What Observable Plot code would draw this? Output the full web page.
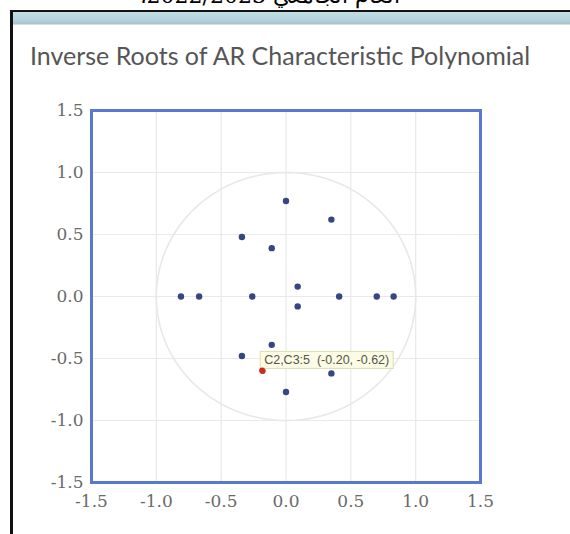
<!DOCTYPE html>
<html>
<head>
<meta charset="utf-8">
<script src="https://cdn.jsdelivr.net/npm/d3@7"></script>
<script src="https://cdn.jsdelivr.net/npm/@observablehq/plot@0.6"></script>
<style>
  html, body { margin: 0; padding: 0; background: #fff; }
  #wrap { position: relative; width: 570px; height: 534px; overflow: hidden; background: #fff; }
  #wrap svg { position: absolute; left: 0; top: 0; }
  .hdr-clip { position: absolute; left: 0; top: 0; width: 570px; height: 9px; overflow: hidden; }
  .hdr { position: absolute; left: 150px; width: 250px; top: -17px; direction: rtl; text-align: center;
         font: 22px "DejaVu Serif", serif; color: #000; white-space: nowrap; }
  .line-top { position: absolute; left: 10px; right: 0; top: 10px; height: 2px; background: #111; }
  .line-left { position: absolute; left: 10px; top: 10px; bottom: 0; width: 3px; background: #111; }
  .band { position: absolute; left: 13px; right: 0; top: 12px; height: 13px;
          background: linear-gradient(to bottom, #c2dde4 0%, #b4d3db 60%, #a9c3cb 90%, #e8f0f2 100%); }
  .title { position: absolute; left: 30px; top: 40px; font: 25px Lato, "Open Sans", sans-serif; color: #555;
           white-space: nowrap; }
</style>
</head>
<body>
<div id="wrap">
  <div class="hdr-clip"><div class="hdr">العام الجامعي 2022/2023،</div></div>
  <div class="line-top"></div>
  <div class="line-left"></div>
  <div class="band"></div>
  <div class="title">Inverse Roots of AR Characteristic Polynomial</div>
</div>
<script>
const rootRe = [0.00, 0.00, 0.35, 0.35, -0.34, -0.34, -0.11, -0.11, 0.09, 0.09, -0.81, -0.67, -0.26, 0.41, 0.70, 0.83];
const rootIm = [0.77, -0.77, 0.62, -0.62, 0.48, -0.48, 0.39, -0.39, 0.08, -0.08, 0.00, 0.00, 0.00, 0.00, 0.00, 0.00];
// highlighted (hovered) root and its tooltip
const hiRe = [-0.18];
const hiIm = [-0.60];
const hiLabel = ["C2,C3:5  (-0.20, -0.62)"];
// axes
const tickValues = [-1.5, -1.0, -0.5, 0.0, 0.5, 1.0, 1.5];
const gridValues = [-1.0, -0.5, 0.0, 0.5, 1.0];

const roots = rootRe.map((re, i) => ({re, im: rootIm[i]}));
const hi = hiRe.map((re, i) => ({re, im: hiIm[i], label: hiLabel[i]}));
// unit circle (reference geometry)
const circle = d3.range(0, 361, 2).map(a => ({re: Math.cos(a * Math.PI / 180), im: Math.sin(a * Math.PI / 180)}));

const fmt = d => d.toFixed(1);

const chart = Plot.plot({
  width: 570,
  height: 534,
  marginLeft: 91,
  marginRight: 90,
  marginTop: 110,
  marginBottom: 52,
  style: {background: "transparent", fontFamily: "'DejaVu Serif', serif", fontSize: "17px", color: "#6a6a6a"},
  x: {domain: [-1.5, 1.5], ticks: tickValues, tickFormat: fmt, tickSize: 0, tickPadding: 12, label: null},
  y: {domain: [-1.5, 1.5], ticks: tickValues, tickFormat: fmt, tickSize: 0, tickPadding: 8, label: null},
  marks: [
    Plot.ruleX(gridValues, {stroke: "#e9e9e9", strokeWidth: 1.2}),
    Plot.ruleY(gridValues, {stroke: "#e9e9e9", strokeWidth: 1.2}),
    Plot.line(circle, {x: "re", y: "im", stroke: "#e8e8e8", strokeWidth: 1.6}),
    Plot.dot(roots, {x: "re", y: "im", r: 3.2, fill: "#36467e", stroke: "none"}),
    Plot.dot(hi, {x: "re", y: "im", r: 3, fill: "#cc2a1a", stroke: "none"}),
    Plot.frame({stroke: "#5a78cf", strokeWidth: 3})
  ]
});

document.getElementById("wrap").appendChild(chart);

// tooltip box next to the highlighted root, positioned through the scales
const sx = chart.scale("x"), sy = chart.scale("y");
const svg = d3.select(chart);
hi.forEach(d => {
  const px = sx.apply(d.re), py = sy.apply(d.im);
  const g = svg.append("g");
  const rect = g.append("rect");
  const t = g.append("text")
    .attr("x", px + 2)
    .attr("y", py - 6)
    .attr("text-anchor", "start")
    .attr("font-family", "'Liberation Sans', Arial, sans-serif")
    .attr("font-size", 12.5)
    .attr("fill", "#55554a")
    .text(d.label);
  const bb = t.node().getBBox();
  rect.attr("x", px - 2).attr("y", py - 19).attr("width", bb.width + 8).attr("height", 17)
      .attr("fill", "#fbfbe6").attr("stroke", "#dedcb0").attr("stroke-width", 1);
  // redraw the point on top
  g.append("circle").attr("cx", px).attr("cy", py).attr("r", 3).attr("fill", "#cc2a1a");
});
</script>
</body>
</html>
